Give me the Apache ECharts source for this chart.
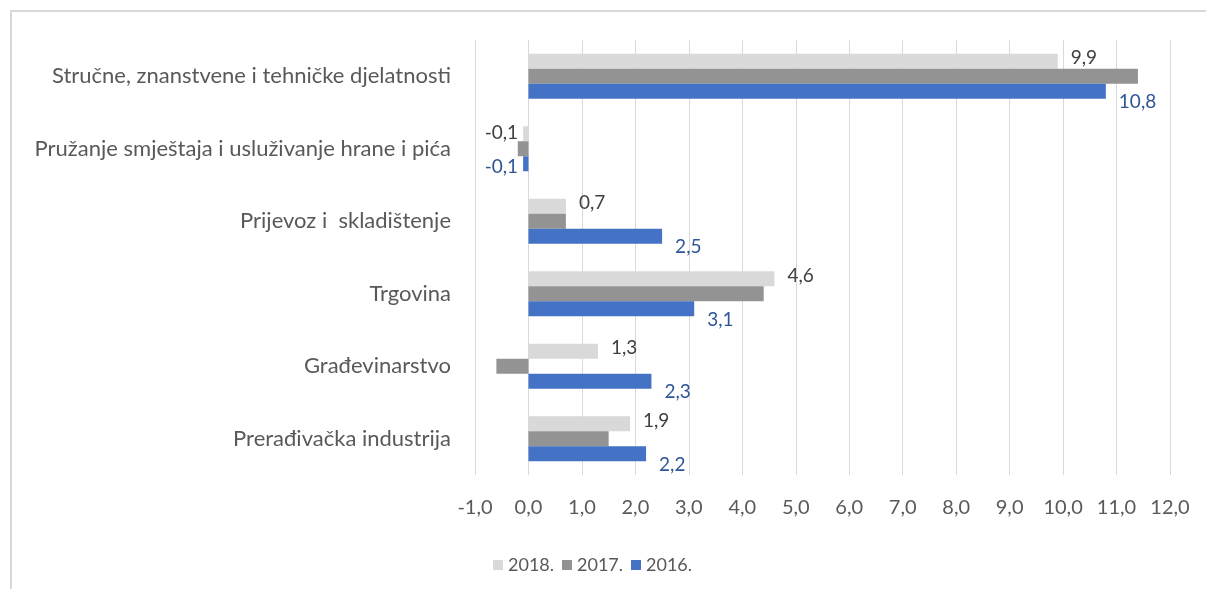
<!DOCTYPE html>
<html>
<head>
<meta charset="utf-8">
<script src="https://cdn.jsdelivr.net/npm/echarts@6/dist/echarts.min.js"></script>
<style>
  html, body { margin: 0; padding: 0; background: #fff; }
  #frame {
    position: absolute; left: 10px; top: 10px; right: 0; bottom: 0;
    border-left: 2px solid #d9d9d9; border-top: 2px solid #d9d9d9;
  }
  #chart { position: absolute; left: 0; top: 0; width: 1206px; height: 589px; }
</style>
</head>
<body>
<div id="frame"></div>
<div id="chart"></div>
<script>
// categories, top to bottom
const categories = [
  'Stručne, znanstvene i tehničke djelatnosti',
  'Pružanje smještaja i usluživanje hrane i pića',
  'Prijevoz i  skladištenje',
  'Trgovina',
  'Građevinarstvo',
  'Prerađivačka industrija'
]
const values2018 = [9.9, -0.1, 0.7, 4.6, 1.3, 1.9]
const values2017 = [11.4, -0.2, 0.7, 4.4, -0.6, 1.5]
const values2016 = [10.8, -0.1, 2.5, 3.1, 2.3, 2.2]
const xTicks = { min: -1, max: 12, interval: 1 }

const fmt = v => v.toFixed(1).replace('.', ',')
const font = 'Lato'

function labelled(values, color, offset) {
  return values.map(v => ({
    value: v,
    label: {
      show: true,
      position: v < 0 ? 'left' : 'right',
      offset: v < 0 ? [0, offset[1] * 0.3] : offset,
      color: color,
      fontFamily: font,
      fontSize: 19,
      formatter: p => fmt(p.value)
    }
  }))
}

const chart = echarts.init(document.getElementById('chart'))
chart.setOption({
  animation: false,
  textStyle: { fontFamily: font },
  legend: {
    data: ['2018.', '2017.', '2016.'],
    left: 488,
    top: 551,
    itemWidth: 10,
    itemHeight: 10,
    itemGap: 8,
    icon: 'rect',
    textStyle: { color: '#595959', fontSize: 18, fontFamily: font }
  },
  grid: {
    left: 475,
    right: 36,
    top: 40,
    bottom: 114
  },
  xAxis: {
    type: 'value',
    min: xTicks.min,
    max: xTicks.max,
    interval: xTicks.interval,
    axisLine: { show: false },
    axisTick: { show: false },
    axisLabel: {
      color: '#595959',
      fontSize: 20,
      fontFamily: font,
      margin: 23,
      formatter: v => fmt(v)
    },
    splitLine: { lineStyle: { color: '#d9d9d9', width: 1 } }
  },
  yAxis: {
    type: 'category',
    data: categories,
    inverse: true,
    axisLine: { show: false },
    axisTick: { show: false },
    axisLabel: { color: '#595959', fontSize: 22, fontFamily: font, margin: 24 }
  },
  series: [
    {
      name: '2018.',
      type: 'bar',
      barWidth: 15,
      barGap: '0%',
      itemStyle: { color: '#d9d9d9' },
      data: labelled(values2018, '#404040', [8, -3])
    },
    {
      name: '2017.',
      type: 'bar',
      barWidth: 15,
      barGap: '0%',
      itemStyle: { color: '#939393' },
      data: values2017
    },
    {
      name: '2016.',
      type: 'bar',
      barWidth: 15,
      barGap: '0%',
      itemStyle: { color: '#4472c4' },
      data: labelled(values2016, '#2f5597', [8, 11])
    }
  ]
})
</script>
</body>
</html>
